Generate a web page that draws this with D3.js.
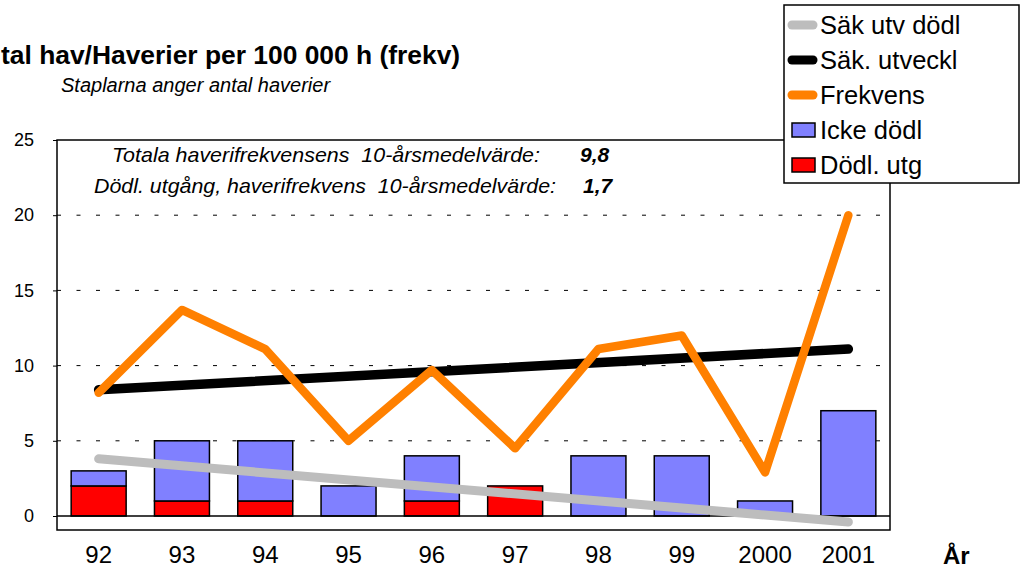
<!DOCTYPE html>
<html>
<head>
<meta charset="utf-8">
<script src="https://cdn.jsdelivr.net/npm/d3@7"></script>
<style>
  body { margin: 0; background: #fff; }
  svg { font-family: Arial, "Liberation Sans", sans-serif; }
</style>
</head>
<body>
<script>
// Data
const years = ["92", "93", "94", "95", "96", "97", "98", "99", "2000", "2001"];
const fatal = [2, 1, 1, 0, 1, 2, 0, 0, 0, 0];          // Dödl. utg
const nonFatal = [1, 4, 4, 2, 3, 0, 4, 4, 1, 7];       // Icke dödl
const frequency = [8.2, 13.7, 11.1, 5.0, 9.7, 4.5, 11.1, 12.0, 2.9, 20.0]; // Frekvens
const trendAll = [8.4, 11.1];     // Säk. utveckl, at 92 and 2001
const trendFatal = [3.8, -0.4];   // Säk utv dödl, at 92 and 2001
const yTicks = [0, 5, 10, 15, 20, 25];
const gridTicks = [5, 10, 15, 20];

const colors = { fatal: "#ff0000", nonFatal: "#8080ff", freq: "#ff8000", trend: "#000000", trendFatal: "#bdbdbd" };

// Dimensions
const W = 1021, H = 570;
const plot = { left: 57, right: 890, top: 140, bottom: 530 };

const svg = d3.select("body")
    .append("svg")
    .attr("width", W)
    .attr("height", H);

const x = d3.scaleBand()
    .domain(years)
    .range([plot.left, plot.right])
    .paddingInner(0.34)
    .paddingOuter(0.17);

const y = d3.scaleLinear()
    .domain([0, 25])
    .range([516, 140]);

const cx = d => x(d) + x.bandwidth() / 2;

// grid
svg.append("g")
    .selectAll("line")
    .data(gridTicks)
    .join("line")
    .attr("x1", plot.left)
    .attr("x2", plot.right)
    .attr("y1", d => y(d))
    .attr("y2", d => y(d))
    .attr("stroke", "#000")
    .attr("stroke-width", 1)
    .attr("stroke-dasharray", "4,15.5");

// y axis labels + small ticks
const yAxis = svg.append("g")
    .attr("transform", `translate(${plot.left},0)`)
    .call(d3.axisLeft(y).tickValues(yTicks).tickSize(4).tickPadding(19));
yAxis.select(".domain").remove();
yAxis.selectAll("line").attr("stroke", "#000");
yAxis.selectAll("text")
    .attr("font-size", 18)
    .attr("font-family", "Arial, 'Liberation Sans', sans-serif")
    .attr("fill", "#000");

// bars
const rows = years.map((d, i) => ({ year: d, fatal: fatal[i], nonFatal: nonFatal[i] }));
const stack = d3.stack().keys(["fatal", "nonFatal"])(rows);

svg.append("g")
    .selectAll("g")
    .data(stack)
    .join("g")
    .attr("fill", s => colors[s.key])
    .selectAll("rect")
    .data(s => s.filter(d => d[1] - d[0] > 0))
    .join("rect")
    .attr("x", d => x(d.data.year))
    .attr("width", x.bandwidth())
    .attr("y", d => y(d[1]))
    .attr("height", d => y(d[0]) - y(d[1]))
    .attr("stroke", "#000")
    .attr("stroke-width", 1.5);

// zero line and frame
svg.append("line")
    .attr("x1", plot.left).attr("x2", plot.right)
    .attr("y1", y(0)).attr("y2", y(0))
    .attr("stroke", "#000").attr("stroke-width", 1.5);

svg.append("rect")
    .attr("x", plot.left).attr("y", plot.top)
    .attr("width", plot.right - plot.left)
    .attr("height", plot.bottom - plot.top)
    .attr("fill", "none")
    .attr("stroke", "#000")
    .attr("stroke-width", 1.5);

// lines
const line = d3.line().x(d => d[0]).y(d => y(d[1]));
const ends = [years[0], years[years.length - 1]];

svg.append("path")
    .attr("d", line(ends.map((d, i) => [cx(d), trendFatal[i]])))
    .attr("fill", "none")
    .attr("stroke", colors.trendFatal)
    .attr("stroke-width", 9)
    .attr("stroke-linecap", "round");

svg.append("path")
    .attr("d", line(ends.map((d, i) => [cx(d), trendAll[i]])))
    .attr("fill", "none")
    .attr("stroke", colors.trend)
    .attr("stroke-width", 9.5)
    .attr("stroke-linecap", "round");

svg.append("path")
    .attr("d", line(years.map((d, i) => [cx(d), frequency[i]])))
    .attr("fill", "none")
    .attr("stroke", colors.freq)
    .attr("stroke-width", 8.5)
    .attr("stroke-linejoin", "round")
    .attr("stroke-linecap", "round");

// x labels
svg.append("g")
    .selectAll("text")
    .data(years)
    .join("text")
    .attr("x", d => cx(d))
    .attr("y", 563)
    .attr("text-anchor", "middle")
    .attr("font-size", 24)
    .text(d => d);

svg.append("text")
    .attr("x", 943).attr("y", 564)
    .attr("font-size", 24)
    .attr("font-weight", "bold")
    .text("År");

// titles
svg.append("text")
    .attr("x", 1).attr("y", 64)
    .attr("font-size", 26.4)
    .attr("font-weight", "bold")
    .text("tal hav/Haverier per 100 000 h (frekv)");

svg.append("text")
    .attr("x", 61).attr("y", 92)
    .attr("font-size", 20)
    .attr("font-style", "italic")
    .text("Staplarna anger antal haverier");

// annotations
svg.append("text")
    .attr("x", 112).attr("y", 162)
    .attr("font-size", 21)
    .attr("font-style", "italic")
    .attr("textLength", 428)
    .attr("lengthAdjust", "spacingAndGlyphs")
    .text("Totala haverifrekvensens\u00a0 10-årsmedelvärde:");
svg.append("text")
    .attr("x", 580).attr("y", 162)
    .attr("font-size", 21)
    .attr("font-style", "italic")
    .attr("font-weight", "bold")
    .text("9,8");

svg.append("text")
    .attr("x", 94).attr("y", 193)
    .attr("font-size", 21)
    .attr("font-style", "italic")
    .attr("textLength", 462)
    .attr("lengthAdjust", "spacingAndGlyphs")
    .text("Dödl. utgång, haverifrekvens\u00a0 10-årsmedelvärde:");
svg.append("text")
    .attr("x", 583).attr("y", 193)
    .attr("font-size", 21)
    .attr("font-style", "italic")
    .attr("font-weight", "bold")
    .text("1,7");

// legend
const legendItems = [
    { label: "Säk utv dödl", type: "line", color: colors.trendFatal },
    { label: "Säk. utveckl", type: "line", color: colors.trend },
    { label: "Frekvens", type: "line", color: colors.freq },
    { label: "Icke dödl", type: "rect", color: colors.nonFatal },
    { label: "Dödl. utg", type: "rect", color: colors.fatal }
];

const legend = svg.append("g");
legend.append("rect")
    .attr("x", 784).attr("y", 5)
    .attr("width", 235).attr("height", 178)
    .attr("fill", "#fff")
    .attr("stroke", "#000")
    .attr("stroke-width", 1.5);

const item = legend.selectAll("g.item")
    .data(legendItems)
    .join("g")
    .attr("class", "item")
    .attr("transform", (d, i) => `translate(0,${25 + i * 35})`);

item.filter(d => d.type === "line")
    .append("line")
    .attr("x1", 792).attr("x2", 813)
    .attr("y1", 0).attr("y2", 0)
    .attr("stroke", d => d.color)
    .attr("stroke-width", 9)
    .attr("stroke-linecap", "round");

item.filter(d => d.type === "rect")
    .append("rect")
    .attr("x", 792).attr("y", -7)
    .attr("width", 23).attr("height", 14)
    .attr("fill", d => d.color)
    .attr("stroke", "#000")
    .attr("stroke-width", 1.5);

item.append("text")
    .attr("x", 820).attr("y", 9)
    .attr("font-size", 25.5)
    .text(d => d.label);
</script>
</body>
</html>
